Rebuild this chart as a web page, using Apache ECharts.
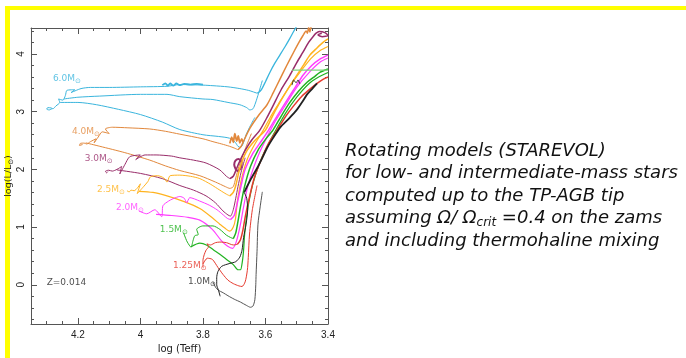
<!DOCTYPE html>
<html>
<head>
<meta charset="utf-8">
<script src="https://cdn.jsdelivr.net/npm/echarts@6/dist/echarts.min.js"></script>
<style>
html, body { margin: 0; padding: 0; background: #fff; }
#chart { width: 686px; height: 358px; }
</style>
</head>
<body>
<div id="chart"></div>
<script>
"use strict";
// HR diagram, rotating tracks, points are [log Teff, log L/Lsun]

// 6.0 Msun
var m60Early = [[4.283,3.05],[4.292,3.03],[4.30,3.045],[4.296,3.07],[4.286,3.065],[4.28,3.05],[4.27,3.10],[4.258,3.16],[4.262,3.22],[4.248,3.20],[4.24,3.28],[4.235,3.37],[4.21,3.38],[4.222,3.33],[4.19,3.40],[4.16,3.42],[4.10,3.42],[4.0,3.43],[3.915,3.44],[3.874,3.47],[3.80,3.46],[3.768,3.45],[3.72,3.43],[3.682,3.40],[3.655,3.37],[3.643,3.35],[3.627,3.32]];
var m60Giant = [[3.627,3.32],[3.618,3.35],[3.611,3.40],[3.60,3.52],[3.586,3.68],[3.57,3.84],[3.554,3.98],[3.537,4.13],[3.522,4.27],[3.51,4.39],[3.497,4.51]];
var m60Mid = [[4.245,3.22],[4.20,3.25],[4.13,3.27],[4.0,3.30],[3.915,3.30],[3.874,3.26],[3.80,3.22],[3.768,3.21],[3.72,3.16],[3.682,3.12],[3.66,3.07],[3.65,3.03],[3.64,3.05],[3.632,3.15],[3.622,3.32],[3.61,3.54]];
var m60Lower = [[4.258,3.16],[4.20,3.16],[4.14,3.12],[4.07,3.04],[4.00,2.95],[3.93,2.82],[3.874,2.69],[3.80,2.60],[3.75,2.57],[3.715,2.54],[3.697,2.47],[3.688,2.40],[3.68,2.38],[3.672,2.44],[3.662,2.60],[3.648,2.76],[3.634,2.90]];
var m60Blob = [[3.93,3.46],[3.92,3.49],[3.912,3.45],[3.905,3.49],[3.895,3.45],[3.885,3.49],[3.875,3.46],[3.86,3.48],[3.84,3.47],[3.82,3.48],[3.80,3.47]];

// 4.0 Msun
var m40Early = [[4.185,2.43],[4.195,2.415],[4.192,2.45],[4.18,2.455],[4.172,2.44],[4.16,2.48],[4.142,2.53],[4.148,2.46],[4.135,2.56],[4.122,2.65],[4.10,2.62],[4.112,2.70],[4.09,2.73],[4.04,2.72],[3.97,2.70],[3.92,2.66],[3.874,2.61],[3.80,2.53],[3.768,2.48],[3.74,2.44],[3.715,2.40],[3.70,2.37],[3.688,2.34]];
var m40Giant = [[3.688,2.34],[3.678,2.40],[3.67,2.49],[3.65,2.71],[3.62,2.95],[3.595,3.12],[3.575,3.33],[3.554,3.56],[3.532,3.80],[3.51,4.03],[3.493,4.20],[3.48,4.32],[3.47,4.40],[3.466,4.36],[3.462,4.46],[3.458,4.38],[3.454,4.48]];
var m40Lower = [[4.175,2.46],[4.13,2.40],[4.05,2.29],[3.97,2.16],[3.92,2.06],[3.874,1.98],[3.81,1.89],[3.76,1.78],[3.728,1.70],[3.714,1.67],[3.703,1.70],[3.695,1.85],[3.685,2.05],[3.672,2.25],[3.66,2.42],[3.645,2.62]];
var m40Blob = [[3.714,2.45],[3.708,2.56],[3.703,2.47],[3.698,2.62],[3.692,2.49],[3.687,2.58],[3.682,2.46],[3.676,2.53],[3.672,2.47]];

// 3.0 Msun
var m30Early = [[4.104,1.96],[4.108,1.94],[4.112,1.965],[4.102,1.985],[4.09,1.97],[4.075,2.00],[4.06,2.05],[4.066,1.92],[4.05,2.08],[4.034,2.22],[4.0,2.25],[4.015,2.17],[3.985,2.25],[3.95,2.25],[3.90,2.23],[3.874,2.20],[3.83,2.16],[3.79,2.11],[3.746,1.99],[3.725,1.88],[3.714,1.84]];
var m30Giant = [[3.714,1.84],[3.703,1.88],[3.692,2.02],[3.68,2.17],[3.665,2.33],[3.645,2.50],[3.618,2.68],[3.595,2.90],[3.576,3.10],[3.55,3.38],[3.522,3.63],[3.50,3.85],[3.48,4.03],[3.462,4.20],[3.448,4.30],[3.438,4.36],[3.428,4.39],[3.41,4.37],[3.40,4.32],[3.418,4.30],[3.432,4.33],[3.42,4.36]];
var m30Lower = [[4.075,1.99],[4.0,1.93],[3.93,1.84],[3.874,1.72],[3.83,1.64],[3.79,1.54],[3.76,1.42],[3.736,1.28],[3.72,1.21],[3.712,1.19],[3.703,1.30],[3.695,1.50],[3.688,1.70],[3.678,1.95],[3.665,2.20]];
var m30Blob = [[3.695,2.00],[3.70,2.08],[3.696,2.15],[3.686,2.18],[3.676,2.12],[3.679,2.02],[3.689,1.97],[3.695,2.00]];

// 2.5 Msun
var m25Early = [[4.043,1.63],[4.036,1.61],[4.03,1.64],[4.02,1.63],[4.0,1.75],[4.01,1.58],[3.99,1.70],[3.976,1.79],[3.968,1.87],[3.945,1.89],[3.925,1.85],[3.915,1.78],[3.905,1.89],[3.874,1.90],[3.84,1.88],[3.81,1.84],[3.775,1.74],[3.746,1.64],[3.725,1.57],[3.714,1.54]];
var m25Giant = [[3.714,1.54],[3.703,1.60],[3.695,1.72],[3.682,2.02],[3.662,2.30],[3.634,2.50],[3.60,2.68],[3.578,2.92],[3.554,3.16],[3.525,3.42],[3.50,3.63],[3.478,3.81],[3.458,3.98],[3.436,4.10],[3.416,4.20],[3.40,4.26]];
var m25Lower = [[4.005,1.62],[3.96,1.60],[3.915,1.54],[3.86,1.44],[3.81,1.32],[3.77,1.16],[3.746,1.05],[3.725,0.96],[3.714,0.93],[3.703,1.00],[3.696,1.14],[3.69,1.44],[3.678,1.80],[3.66,2.15],[3.638,2.40],[3.61,2.65],[3.585,2.90],[3.56,3.12],[3.53,3.38],[3.49,3.68],[3.455,3.92],[3.425,4.06],[3.40,4.13]];

// 2.0 Msun
var m20Early = [[4.005,1.28],[3.98,1.23],[3.954,1.30],[3.932,1.18],[3.928,1.37],[3.91,1.45],[3.896,1.49],[3.874,1.53],[3.86,1.50],[3.852,1.42],[3.842,1.51],[3.81,1.45],[3.78,1.38],[3.755,1.30],[3.735,1.21],[3.722,1.15],[3.712,1.13]];
var m20Giant = [[3.712,1.13],[3.70,1.20],[3.69,1.42],[3.678,1.72],[3.665,2.0],[3.64,2.28],[3.612,2.50],[3.59,2.68],[3.56,2.95],[3.53,3.21],[3.505,3.42],[3.48,3.63],[3.452,3.80],[3.426,3.91],[3.40,3.98]];
var m20Lower = [[3.95,1.22],[3.90,1.20],[3.85,1.17],[3.81,1.12],[3.77,0.96],[3.742,0.77],[3.722,0.67],[3.705,0.63],[3.695,0.72],[3.688,0.85],[3.68,1.05],[3.67,1.35],[3.657,1.70],[3.64,2.0],[3.62,2.28],[3.596,2.55],[3.57,2.82],[3.54,3.08],[3.50,3.42],[3.46,3.68],[3.425,3.86],[3.40,3.93]];

// 1.5 Msun
var m15Early = [[3.862,0.90],[3.855,0.80],[3.85,0.74],[3.838,0.65],[3.832,0.76],[3.826,0.85],[3.815,0.87],[3.82,0.96],[3.80,1.02],[3.768,1.02],[3.746,0.96],[3.725,0.86],[3.712,0.82],[3.703,0.80]];
var m15Giant = [[3.703,0.80],[3.695,0.90],[3.688,1.10],[3.68,1.35],[3.667,1.70],[3.648,2.05],[3.622,2.35],[3.60,2.52],[3.576,2.68],[3.55,2.92],[3.522,3.16],[3.495,3.35],[3.467,3.51],[3.445,3.60],[3.426,3.68],[3.40,3.74]];
var m15Lower = [[3.838,0.66],[3.81,0.72],[3.789,0.69],[3.765,0.60],[3.746,0.53],[3.72,0.42],[3.703,0.35],[3.688,0.26],[3.68,0.26],[3.674,0.40],[3.67,0.60],[3.667,0.85],[3.66,1.20],[3.647,1.60],[3.632,1.90],[3.612,2.20],[3.59,2.45],[3.565,2.70],[3.535,2.98],[3.50,3.25],[3.462,3.48],[3.43,3.60],[3.40,3.68]];
var m15Flash = [[3.515,3.72],[3.40,3.72]];

// 1.25 Msun
var m125Early = [[3.80,0.30],[3.80,0.42],[3.796,0.52],[3.79,0.60],[3.782,0.66],[3.787,0.71],[3.776,0.69],[3.76,0.73],[3.746,0.74],[3.725,0.73],[3.703,0.69],[3.69,0.70]];
var m125Giant = [[3.69,0.70],[3.68,0.78],[3.672,0.95],[3.664,1.20],[3.652,1.50],[3.636,1.85],[3.615,2.15],[3.59,2.45],[3.563,2.68],[3.535,2.92],[3.51,3.10],[3.485,3.26],[3.458,3.39],[3.435,3.49],[3.416,3.56],[3.40,3.60]];
var m125Lower = [[3.80,0.36],[3.786,0.46],[3.77,0.44],[3.752,0.30],[3.736,0.18],[3.72,0.08],[3.703,0.02],[3.685,-0.02],[3.675,-0.03],[3.665,0.05],[3.658,0.25],[3.655,0.47],[3.651,0.88],[3.642,1.30],[3.627,1.72]];

// 1.0 Msun
var m10Early = [[3.745,-0.20],[3.75,-0.10],[3.756,0.0],[3.756,0.12],[3.752,0.23],[3.74,0.32],[3.714,0.37],[3.695,0.40],[3.682,0.48],[3.675,0.60],[3.67,0.82],[3.662,1.05],[3.657,1.30],[3.66,1.50],[3.668,1.60]];
var m10Giant = [[3.668,1.60],[3.648,1.82],[3.627,2.02],[3.61,2.20],[3.595,2.37],[3.575,2.55],[3.554,2.72],[3.525,2.88],[3.50,3.03],[3.482,3.17],[3.467,3.30],[3.45,3.40],[3.435,3.49]];
var m10Lower = [[3.768,0.05],[3.76,-0.04],[3.752,-0.09],[3.735,-0.14],[3.72,-0.19],[3.70,-0.25],[3.68,-0.30],[3.66,-0.36],[3.648,-0.39],[3.64,-0.37],[3.634,-0.26],[3.631,0.0],[3.63,0.18],[3.627,0.58],[3.624,1.05],[3.617,1.35],[3.61,1.61]];
var m10Flash = [[3.515,3.46],[3.51,3.55],[3.502,3.50],[3.496,3.55],[3.49,3.48]];

// mass labels (left edge of text, in data units)
var massNames = ['6.0', '4.0', '3.0', '2.5', '2.0', '1.5', '1.25', '1.0'];
var massLabelT = [4.28, 4.219, 4.178, 4.139, 4.078, 3.938, 3.896, 3.848];
var massLabelL = [3.58, 2.65, 2.18, 1.65, 1.33, 0.95, 0.33, 0.05];
var massColors = ['#3AB5DD', '#E2883C', '#992D6A', '#FFB31F', '#FF3DFF', '#22B322', '#E63A2E', '#222222'];

var noteLines = [
  '{n|Rotating models (STAREVOL)}',
  '{n|for low- and intermediate-mass stars}',
  '{n|computed up to the TP-AGB tip}',
  '{n|assuming \u03A9/ \u03A9}{s|crit}{n| =0.4 on the zams}',
  '{n|and including thermohaline mixing}'
];

var axisColor = '#555';
var tickFont = 'Liberation Sans';

function lineSeries(data, color, width) {
  return {
    type: 'line',
    data: data,
    symbol: 'none',
    smooth: 0.25,
    silent: true,
    lineStyle: { color: color, width: width },
    z: 2
  };
}

var series = [];
var c = massColors;
// thin early parts, thicker giant branches
[
  [m60Lower, c[0], 1], [m60Mid, c[0], 1], [m60Early, c[0], 1], [m60Blob, c[0], 1.8], [m60Giant, c[0], 1.3],
  [m40Lower, c[1], 1], [m40Early, c[1], 1], [m40Blob, c[1], 1.8], [m40Giant, c[1], 1.5],
  [m30Lower, c[2], 1], [m30Early, c[2], 1], [m30Blob, c[2], 2], [m30Giant, c[2], 1.5],
  [m25Lower, c[3], 1.2], [m25Early, c[3], 1], [m25Giant, c[3], 1.5],
  [m20Lower, c[4], 1.2], [m20Early, c[4], 1], [m20Giant, c[4], 1.5],
  [m15Lower, c[5], 1.2], [m15Early, c[5], 1], [m15Giant, c[5], 1.5], [m15Flash, '#7ED67E', 1.2],
  [m125Lower, c[6], 1], [m125Early, c[6], 1], [m125Giant, c[6], 1.5],
  [m10Lower, '#555555', 1], [m10Early, c[7], 1], [m10Giant, c[7], 1.8], [m10Flash, '#333333', 1]
].forEach(function (t) {
  series.push(lineSeries(t[0], t[1], t[2]));
});

// track labels
series.push({
  type: 'scatter',
  symbolSize: 0,
  silent: true,
  z: 5,
  data: massNames.map(function (n, i) {
    return {
      name: n,
      value: [massLabelT[i], massLabelL[i]],
      label: { color: massColors[i] }
    };
  }),
  label: {
    show: true,
    position: 'right',
    distance: 0,
    formatter: function (p) { return '{m|' + p.name + 'M}{s|\u2299}'; },
    rich: {
      m: { fontSize: 9, fontFamily: 'DejaVu Sans' },
      s: { fontSize: 7, fontFamily: 'DejaVu Sans', padding: [5, 0, 0, 0] }
    }
  }
});
series.push({
  type: 'scatter',
  symbolSize: 0,
  silent: true,
  data: [[4.30, 0.04]],
  label: {
    show: true, position: 'right', distance: 0,
    formatter: 'Z=0.014', color: '#222', fontSize: 9, fontFamily: 'DejaVu Sans'
  }
});

function xAxisDef(pos, interval, len, main) {
  return {
    type: 'value', position: pos, min: 3.4, max: 4.35, inverse: true, interval: interval,
    axisLine: { show: main, onZero: false, lineStyle: { color: axisColor, width: 1 } },
    axisTick: { show: true, inside: true, length: len, lineStyle: { color: axisColor, width: 1 } },
    axisLabel: {
      show: main && pos === 'bottom', margin: 6, color: '#222', fontSize: 10, fontFamily: tickFont,
      formatter: function (v) {
        if (Math.abs(v * 5 - Math.round(v * 5)) > 1e-6) return '';
        return String(+v.toFixed(1));
      }
    },
    splitLine: { show: false },
    name: main && pos === 'bottom' ? 'log (Teff)' : '',
    nameLocation: 'middle', nameGap: 20,
    nameTextStyle: { color: '#222', fontSize: 10, fontFamily: 'DejaVu Sans' }
  };
}

function yAxisDef(pos, split, len, main) {
  return {
    type: 'value', position: pos, min: -0.68, max: 4.45, splitNumber: split,
    axisLine: { show: main, onZero: false, lineStyle: { color: axisColor, width: 1 } },
    axisTick: { show: true, inside: true, length: len, lineStyle: { color: axisColor, width: 1 } },
    axisLabel: {
      show: main && pos === 'left', rotate: 90, margin: 5, color: '#222', fontSize: 10, fontFamily: tickFont,
      formatter: function (v) {
        if (Math.abs(v - Math.round(v)) > 1e-6) return '';
        return String(Math.round(v));
      }
    },
    splitLine: { show: false },
    name: main && pos === 'left' ? '{a|log(L/L}{b|\u2299}{a|)}' : '',
    nameLocation: 'middle', nameGap: 16,
    nameTextStyle: {
      color: '#222',
      rich: {
        a: { fontSize: 9.5, fontFamily: 'DejaVu Sans', color: '#222' },
        b: { fontSize: 7, fontFamily: 'DejaVu Sans', color: '#222', padding: [5, 0, 0, 0] }
      }
    }
  };
}

var chart = echarts.init(document.getElementById('chart'), null, { renderer: 'canvas' });
chart.setOption({
  animation: false,
  backgroundColor: '#ffffff',
  grid: { left: 31, top: 28, right: 358, bottom: 34, outerBoundsMode: 'none' },
  xAxis: [
    xAxisDef('bottom', 0.2, 6, true),
    xAxisDef('bottom', 0.05, 3, false),
    xAxisDef('top', 0.2, 6, true),
    xAxisDef('top', 0.05, 3, false)
  ],
  yAxis: [
    yAxisDef('left', 5, 6, true),
    yAxisDef('left', 25, 3, false),
    yAxisDef('right', 5, 6, true),
    yAxisDef('right', 25, 3, false)
  ],
  series: series,
  graphic: [
    { type: 'rect', shape: { x: 5, y: 6, width: 681, height: 4 }, style: { fill: '#FFFF00' }, silent: true },
    { type: 'rect', shape: { x: 5, y: 6, width: 5, height: 352 }, style: { fill: '#FFFF00' }, silent: true },
    {
      type: 'text', x: 345, y: 140, silent: true,
      style: {
        text: noteLines.join('\n'),
        fill: '#111',
        rich: {
          n: { fontSize: 18, fontStyle: 'italic', fontFamily: 'DejaVu Sans', lineHeight: 22.5, fill: '#111' },
          s: { fontSize: 12, fontStyle: 'italic', fontFamily: 'DejaVu Sans', lineHeight: 22.5, fill: '#111', padding: [9, 0, 0, 0] }
        }
      }
    }
  ]
});
</script>
</body>
</html>
